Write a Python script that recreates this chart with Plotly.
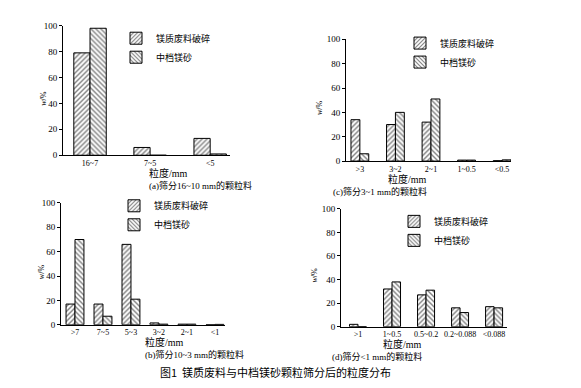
import plotly.graph_objects as go

W, H = 581, 388
S1 = "镁质废料破碎"
S2 = "中档镁砂"

cats_a = ["16~7", "7~5", "<5"]
s1_a = [79, 6, 13]
s2_a = [98, 0, 1]

cats_b = [">7", "7~5", "5~3", "3~2", "2~1", "<1"]
s1_b = [17, 17, 66, 1.5, 0.5, 0]
s2_b = [70, 7, 21, 0.5, 0.5, 0.3]

cats_c = [">3", "3~2", "2~1", "1~0.5", "<0.5"]
s1_c = [34, 30, 32, 0.8, 0.3]
s2_c = [6, 40, 51, 0.8, 1]

cats_d = [">1", "1~0.5", "0.5~0.2", "0.2~0.088", "<0.088"]
s1_d = [2, 32, 27, 16, 17]
s2_d = [0, 38, 31, 12, 16]

yticks = [0, 20, 40, 60, 80, 100]

subtitles = ["(a)筛分16~10 mm的颗粒料", "(b)筛分10~3 mm的颗粒料",
             "(c)筛分3~1 mm的颗粒料", "(d)筛分<1 mm的颗粒料"]
caption = "图1  镁质废料与中档镁砂颗粒筛分后的粒度分布"

SERIF = "Liberation Serif, Noto Sans CJK SC"
CJK = "Noto Sans CJK SC"

panels = [
    dict(cats=cats_a, s1=s1_a, s2=s2_a, px=(55, 222), py=(146, 13), xr=[-0.45, 2.33], w=0.27,
         leg=(108, 11), sub=subtitles[0]),
    dict(cats=cats_b, s1=s1_b, s2=s2_b, px=(53, 217), py=(320, 195), xr=[-0.5, 5.36], w=0.32,
         leg=(106, 183), sub=subtitles[1]),
    dict(cats=cats_c, s1=s1_c, s2=s2_c, px=(338, 503), py=(152, 27), xr=[-0.39, 4.25], w=0.25,
         leg=(392, 16), sub=subtitles[2]),
    dict(cats=cats_d, s1=s1_d, s2=s2_d, px=(333, 499), py=(322, 201), xr=[-0.5, 4.38], w=0.25,
         leg=(386, 199), sub=subtitles[3]),
]

fig = go.Figure()
annotations = []
for i, p in enumerate(panels):
    n = i + 1
    sfx = "" if n == 1 else str(n)
    legname = "legend" if n == 1 else f"legend{n}"
    for k, (vals, shape, name) in enumerate([(p["s1"], "/", S1), (p["s2"], "\\", S2)]):
        fig.add_trace(go.Bar(
            x=p["cats"], y=vals, name=name,
            xaxis="x" + sfx, yaxis="y" + sfx,
            width=p["w"], offset=-p["w"] if k == 0 else 0,
            marker=dict(color="white", line=dict(color="black", width=1),
                        pattern=dict(shape=shape, fgcolor="black", bgcolor="white",
                                     size=3.5, solidity=0.4)),
            legend=legname, showlegend=True,
        ))
    xd = [p["px"][0] / W, p["px"][1] / W]
    yd = [1 - p["py"][0] / H, 1 - p["py"][1] / H]
    fig.layout["xaxis" + sfx] = dict(
        domain=xd, range=p["xr"], anchor="y" + sfx, showline=True, linecolor="black",
        linewidth=1, ticks="", showgrid=False, zeroline=False, tickangle=0,
        tickfont=dict(family=SERIF, size=8, color="black"), fixedrange=True)
    fig.layout["yaxis" + sfx] = dict(
        domain=yd, range=[0, 100], anchor="x" + sfx, showline=True, linecolor="black",
        linewidth=1, ticks="outside", ticklen=3, tickcolor="black", tickvals=yticks,
        showgrid=False, zeroline=False,
        tickfont=dict(family=SERIF, size=9, color="black"), fixedrange=True)
    fig.layout[legname] = dict(
        x=p["leg"][0] / W, y=1 - p["leg"][1] / H, xanchor="left", yanchor="top",
        font=dict(family=CJK, size=9, color="black"), bgcolor="rgba(0,0,0,0)",
        itemwidth=30, tracegroupgap=0)
    xmid = (p["px"][0] + p["px"][1]) / 2
    annotations.append(dict(text="粒度/mm", x=xmid / W, y=1 - (p["py"][0] + 18) / H,
                            xref="paper", yref="paper", showarrow=False, yanchor="middle",
                            font=dict(family=SERIF, size=10, color="black")))
    annotations.append(dict(text=p["sub"], x=xmid / W, y=1 - (p["py"][0] + 31) / H,
                            xref="paper", yref="paper", showarrow=False, yanchor="middle",
                            font=dict(family=SERIF, size=9, color="black")))
    annotations.append(dict(text="<i>w</i>/%", x=(p["px"][0] - 26) / W,
                            y=1 - ((p["py"][0] + p["py"][1]) / 2 + 8) / H,
                            xref="paper", yref="paper", showarrow=False, textangle=-90,
                            yanchor="middle", font=dict(family=SERIF, size=8, color="black")))

annotations.append(dict(text=caption, x=267 / W, y=1 - 369 / H, xref="paper", yref="paper",
                        showarrow=False, yanchor="middle",
                        font=dict(family=CJK, size=11, color="black")))

fig.update_layout(
    width=W, height=H, margin=dict(l=0, r=0, t=0, b=0),
    paper_bgcolor="white", plot_bgcolor="white",
    annotations=annotations, barmode="overlay", showlegend=True,
)
fig.write_html("out.html")
